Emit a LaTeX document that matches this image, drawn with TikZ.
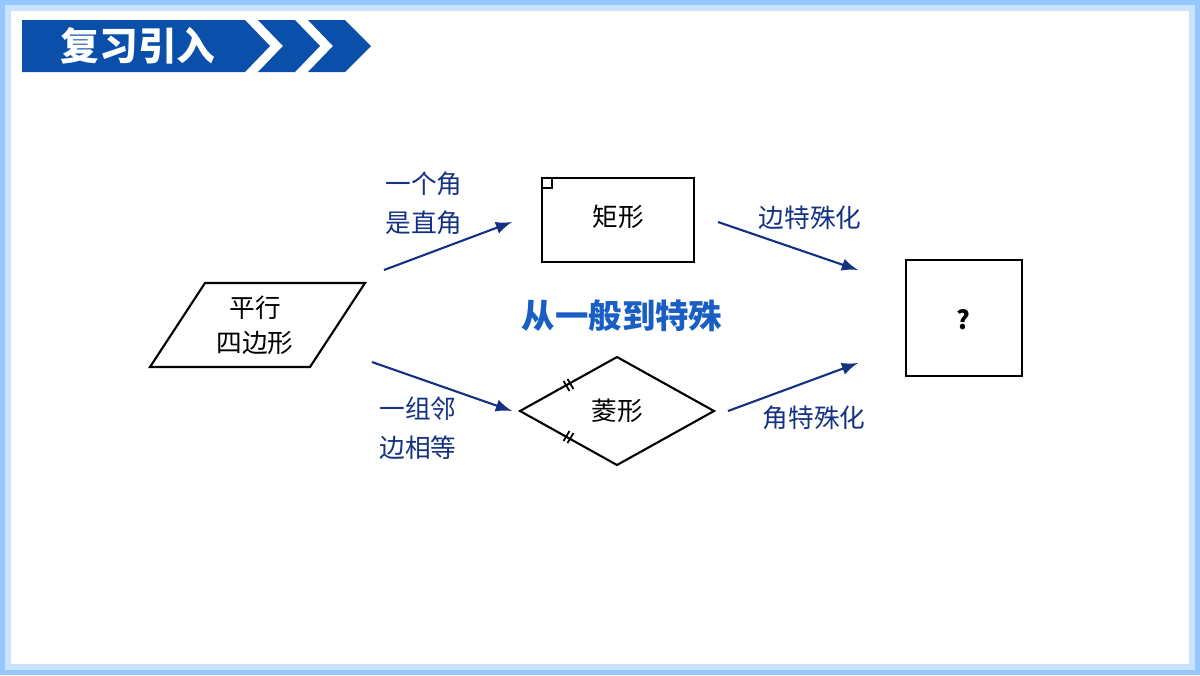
\documentclass[tikz,border=0pt]{standalone}
\usepackage{fontspec}
\newfontfamily\cjk{Noto Sans CJK SC}
\usetikzlibrary{calc}
\definecolor{arrblue}{RGB}{20,50,130}
\definecolor{titblue}{RGB}{25,95,195}
\definecolor{barblue}{RGB}{10,80,170}
\definecolor{rimblue}{RGB}{150,200,255}
\begin{document}
\begin{tikzpicture}[x=0.01cm,y=-0.01cm,
  shape line/.style={draw=black,line width=0.6pt},
  conn/.style={draw=arrblue,line width=0.6pt,-latex},
  lab/.style={font=\cjk\fontsize{7.3}{9}\selectfont,text=arrblue,align=center,inner sep=0pt},
  txt/.style={font=\cjk\fontsize{7.3}{9}\selectfont,align=center,inner sep=0pt}]
\useasboundingbox (0,0) rectangle (1200,675);
% cadre
\fill[rimblue] (0,0) rectangle (1200,675);
\fill[rimblue!50] (5,5) rectangle (1195,670);
\fill[white] (11,11) rectangle (1189,664);
% bandeau
\fill[barblue] (22,20) -- (245,20) -- (270,46) -- (245,72) -- (22,72) -- cycle;
\fill[barblue] (258,20) -- (295,20) -- (320,46) -- (295,72) -- (258,72) -- (283,46) -- cycle;
\fill[barblue] (308,20) -- (345,20) -- (371,46) -- (345,72) -- (308,72) -- (333,46) -- cycle;
\node[font=\cjk\bfseries\fontsize{11}{13}\selectfont,text=white] (head) at (138,46) {复习引入};
% figures
\draw[shape line] (150,367) -- (205,283) -- (365,283) -- (310,367) -- cycle;
\node[txt] (para) at (255,325) {平行\\[1pt]四边形};
\draw[shape line] (542,178) rectangle (694,262);
\draw[line width=0.4pt] (542,188) -- (552,188) -- (552,178);
\node[txt] (rect) at (618,217) {矩形};
\coordinate (rl) at (520,411);
\coordinate (rt) at (617,357);
\coordinate (rr) at (714,411);
\coordinate (rb) at (617,465);
\draw[shape line] (rl) -- (rt) -- (rr) -- (rb) -- cycle;
% marques d'égalité
\foreach \p/\q/\s in {rl/rt/1,rl/rb/-1}{
  \draw[line width=0.5pt] ($(\p)!0.5!(\q)+(-5,-3*\s)$) -- +(6,10*\s);
  \draw[line width=0.5pt] ($(\p)!0.5!(\q)+(-1,-5*\s)$) -- +(6,10*\s);}
\node[txt] (rhom) at (617,411) {菱形};
\draw[shape line] (906,260) rectangle (1022,376);
\node[txt,font=\cjk\bfseries\fontsize{7.3}{9}\selectfont] (sq) at (963,320) {?};
% flèches
\coordinate (a1) at (384,270); \coordinate (b1) at (512,222);
\coordinate (a2) at (372,362); \coordinate (b2) at (512,411);
\coordinate (a3) at (718,222); \coordinate (b3) at (858,270);
\coordinate (a4) at (728,411); \coordinate (b4) at (858,363);
\draw[conn] (a1) -- (b1);
\draw[conn] (a2) -- (b2);
\draw[conn] (a3) -- (b3);
\draw[conn] (a4) -- (b4);
\node[lab] (l1) at (424,203) {一个角\\[2pt]是直角};
\node[lab] (l2) at (418,428) {一组邻\\[2pt]边相等};
\node[lab] (l3) at (810,218) {边特殊化};
\node[lab] (l4) at (814,418) {角特殊化};
\node[font=\cjk\bfseries\fontsize{9.5}{11}\selectfont,text=titblue] (title) at (622,316) {从一般到特殊};
\end{tikzpicture}
\end{document}
